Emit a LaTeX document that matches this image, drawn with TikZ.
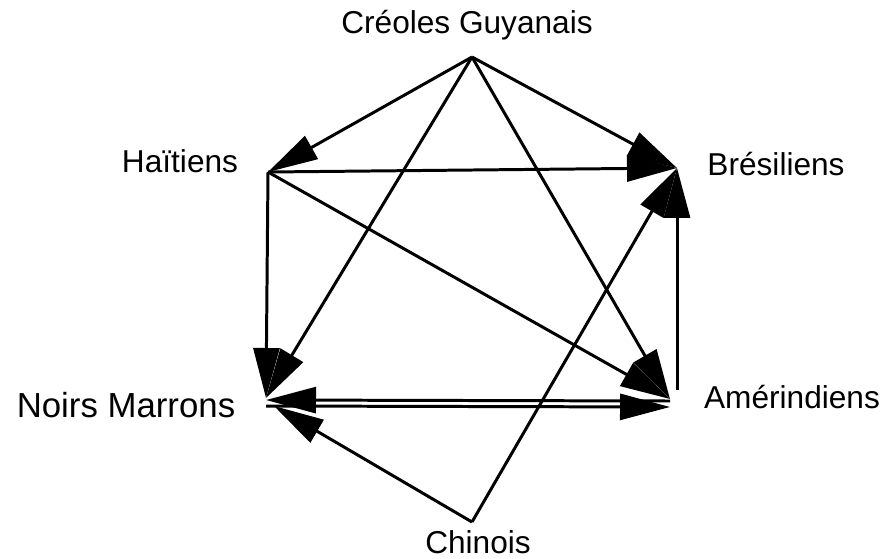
\documentclass[tikz,border=0pt]{standalone}
\usepackage{fontspec}
\setmainfont{Liberation Sans}
\usepackage{tikz}
\usetikzlibrary{arrows.meta,calc}

\begin{document}
\begin{tikzpicture}[x=0.02cm, y=-0.02cm,
    lbl/.style={anchor=base, inner sep=0pt, font=\fontsize{18}{21}\selectfont},
    arr/.style={-{Triangle[length=1cm, width=0.52cm]}, line width=1.7pt}]
            \useasboundingbox (0,0) rectangle (886,558);

            % labels
            \node[lbl] (cgl) at (467,33) {Créoles Guyanais};
            \node[lbl] (htl) at (180,172) {Haïtiens};
            \node[lbl] (brl) at (776,175) {Brésiliens};
            \node[lbl, font=\fontsize{19.8}{23}\selectfont] (nml) at (126,417) {Noirs Marrons};
            \node[lbl] (aml) at (792,408) {Amérindiens};
            \node[lbl] (chl) at (478,553) {Chinois};

            % points where the arrows meet
            \coordinate (cg) at (472,57);
            \coordinate (ht) at (268,172);
            \coordinate (br) at (677,168);
            \coordinate (nm) at (266,398);
            \coordinate (am) at (670,399);
            \coordinate (amup) at (677,390);
            \coordinate (ch) at (472,522);

            % from Créoles Guyanais
            \draw[arr] (cg) -- (ht);
            \draw[arr] (cg) -- (br);
            \draw[arr] (cg) -- (nm);
            \draw[arr] (cg) -- (am);

            % from Haïtiens
            \draw[arr] (ht) -- (br);
            \draw[arr] (ht) -- (am);
            \draw[arr] (ht) -- (nm);

            % Noirs Marrons <-> Amérindiens
            \draw[arr] ($(am)+(0,2)$) -- ($(nm)+(0,2)$);
            \draw[arr] ($(nm)+(0,8)$) -- ($(am)+(0,8)$);

            % from Chinois
            \draw[arr] (ch) -- ($(nm)+(8,8)$);
            \draw[arr] (ch) -- (br);

            % Amérindiens to Brésiliens
            \draw[arr] (amup) -- (br);
        \end{tikzpicture}
\end{document}
